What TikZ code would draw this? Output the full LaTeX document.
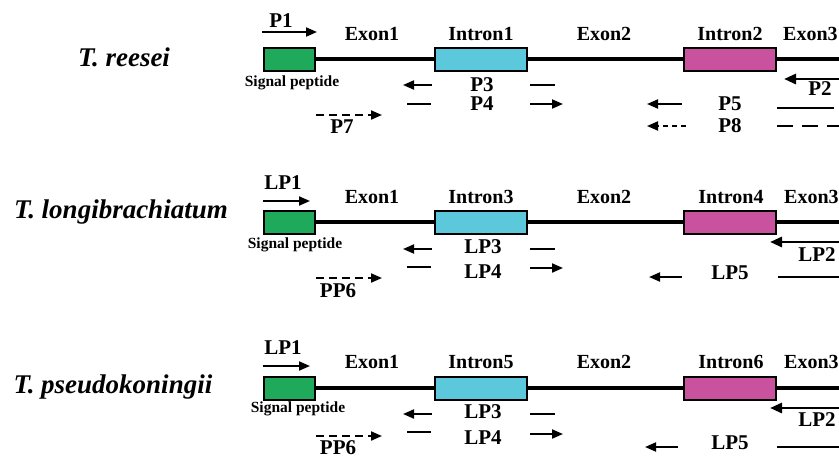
\documentclass[tikz,border=0pt]{standalone}
\usepackage{fontspec}
\setmainfont{Liberation Serif}
\usetikzlibrary{arrows.meta}

\definecolor{spgreen}{RGB}{30,170,90}
\definecolor{incyan}{RGB}{92,200,220}
\definecolor{inpink}{RGB}{200,82,158}

\tikzset{
  genebox/.style={draw=black,line width=2pt,inner sep=0pt,minimum width=51pt,minimum height=23pt},
  spbox/.style={genebox,fill=spgreen,minimum width=51pt},
  cyanbox/.style={genebox,fill=incyan,minimum width=92pt},
  pinkbox/.style={genebox,fill=inpink,minimum width=92pt},
  backbone/.style={line width=3.2pt},
  lbl/.style={font=\fontsize{20}{22}\selectfont\bfseries,inner sep=0pt},
  plbl/.style={font=\fontsize{21}{23}\selectfont\bfseries,inner sep=0pt},
  splbl/.style={font=\fontsize{15.5}{17}\selectfont\bfseries,inner sep=0pt},
  species/.style={font=\fontsize{27}{30}\selectfont\bfseries\itshape,inner sep=0pt},
  primer/.style={line width=2pt,-{Triangle[length=11pt,width=9pt]}},
  primerbar/.style={line width=2pt},
  thickprimer/.style={line width=2.8pt,-{Triangle[length=12pt,width=10pt]}},
  dashprimer/.style={primer,dash pattern=on 8pt off 5pt},
}

\begin{document}
\begin{tikzpicture}[x=1pt,y=-1pt]
  \useasboundingbox (0,0) rectangle (839,461);

  % ---------- T. reesei ----------
  \node[species] (sp1name) at (124,57) {T. reesei};
  \node[spbox] (sp1) at (289.5,59) {};
  \node[cyanbox] (ia1) at (481,59) {};
  \node[pinkbox] (ib1) at (730,59) {};
  \coordinate (end1) at (850,59);
  \draw[backbone] (sp1.east) -- (ia1.west) (ia1.east) -- (ib1.west) (ib1.east) -- (end1);
  \node[lbl] (exa1) at (372,34) {Exon1};
  \node[lbl] (ina1) at (481,34) {Intron1};
  \node[lbl] (exb1) at (604,34) {Exon2};
  \node[lbl] (inb1) at (730,34) {Intron2};
  \node[lbl,anchor=west] (exc1) at (783,34) {Exon3};
  \node[splbl] (sig1) at (292,83) {Signal peptide};

  % primers
  \node[plbl] (p1) at (281,21) {P1};
  \draw[primer] (262,32) -- (317,32);
  \node[plbl] (p3) at (482,85) {P3};
  \draw[primer] (432,85) -- (403,85);
  \draw[primerbar] (530,85) -- (555,85);
  \node[plbl] (p4) at (482,104) {P4};
  \draw[primerbar] (407,104) -- (431,104);
  \draw[primer] (530,104) -- (563,104);
  \draw[dashprimer] (316,115) -- (382,115);
  \node[plbl] (p7) at (342,127) {P7};
  \draw[thickprimer] (850,79) -- (784,79);
  \node[plbl] (p2) at (820,89) {P2};
  \node[plbl] (p5) at (730,104) {P5};
  \draw[primer] (682,104) -- (647,104);
  \draw[primerbar] (777,108) -- (834,108);
  \node[plbl] (p8) at (730,126) {P8};
  \draw[primer,dash pattern=on 5pt off 4pt] (686,126) -- (647,126);
  \draw[primerbar,dash pattern=on 16pt off 9pt] (777,126) -- (850,126);

  % ---------- T. longibrachiatum ----------
  \node[species] (sp2name) at (121,212) {T. longibrachiatum};
  \node[spbox] (sp2) at (289.5,222) {};
  \node[cyanbox] (ia2) at (481,222) {};
  \node[pinkbox] (ib2) at (730,222) {};
  \coordinate (end2) at (850,222);
  \draw[backbone] (sp2.east) -- (ia2.west) (ia2.east) -- (ib2.west) (ib2.east) -- (end2);
  \node[lbl] (exa2) at (372,197) {Exon1};
  \node[lbl] (ina2) at (481,197) {Intron3};
  \node[lbl] (exb2) at (604,197) {Exon2};
  \node[lbl] (inb2) at (731,197) {Intron4};
  \node[lbl,anchor=west] (exc2) at (784,197) {Exon3};
  \node[splbl] (sig2) at (295,245) {Signal peptide};

  % primers
  \node[plbl] (lp1b) at (283,183) {LP1};
  \draw[primer] (263,201) -- (310,201);
  \node[plbl] (lp3b) at (483,247) {LP3};
  \draw[primer] (432,249) -- (403,249);
  \draw[primerbar] (530,249) -- (555,249);
  \node[plbl] (lp4b) at (483,272) {LP4};
  \draw[primerbar] (407,267) -- (431,267);
  \draw[primer] (530,268) -- (563,268);
  \draw[dashprimer] (316,278) -- (382,278);
  \node[plbl] (pp6b) at (338,291) {PP6};
  \draw[thickprimer] (850,242) -- (770,242);
  \node[plbl] (lp2b) at (817,255) {LP2};
  \node[plbl] (lp5b) at (730,273) {LP5};
  \draw[primer] (682,277) -- (649,277);
  \draw[primerbar] (778,277) -- (850,277);

  % ---------- T. pseudokoningii ----------
  \node[species] (sp3name) at (113,387) {T. pseudokoningii};
  \node[spbox] (sp3) at (289.5,388) {};
  \node[cyanbox] (ia3) at (481,388) {};
  \node[pinkbox] (ib3) at (730,388) {};
  \coordinate (end3) at (850,388);
  \draw[backbone] (sp3.east) -- (ia3.west) (ia3.east) -- (ib3.west) (ib3.east) -- (end3);
  \node[lbl] (exa3) at (372,362) {Exon1};
  \node[lbl] (ina3) at (481,362) {Intron5};
  \node[lbl] (exb3) at (604,362) {Exon2};
  \node[lbl] (inb3) at (731,362) {Intron6};
  \node[lbl,anchor=west] (exc3) at (784,362) {Exon3};
  \node[splbl] (sig3) at (298,409) {Signal peptide};

  % primers
  \node[plbl] (lp1c) at (283,348) {LP1};
  \draw[primer] (263,366) -- (310,366);
  \node[plbl] (lp3c) at (483,412) {LP3};
  \draw[primer] (432,414) -- (403,414);
  \draw[primerbar] (530,414) -- (555,414);
  \node[plbl] (lp4c) at (483,438) {LP4};
  \draw[primerbar] (407,432) -- (431,432);
  \draw[primer] (530,434) -- (563,434);
  \draw[dashprimer] (316,436) -- (382,436);
  \node[plbl,anchor=south] (pp6c) at (338,455) {PP6};
  \draw[thickprimer] (850,408) -- (770,408);
  \node[plbl] (lp2c) at (817,420) {LP2};
  \node[plbl] (lp5c) at (730,443) {LP5};
  \draw[primer] (678,447) -- (645,447);
  \draw[primerbar] (777,447) -- (850,447);
\end{tikzpicture}
\end{document}
